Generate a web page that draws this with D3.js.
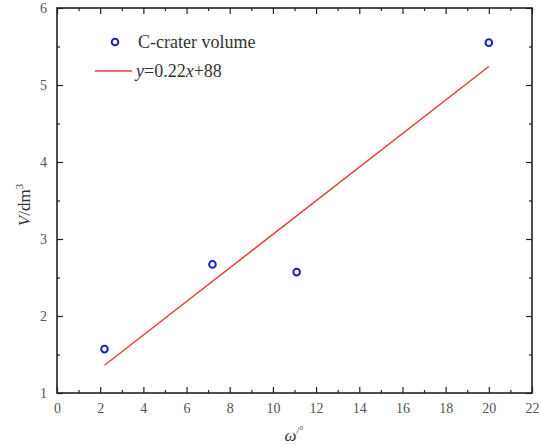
<!DOCTYPE html>
<html><head><meta charset="utf-8">
<script src="https://cdn.jsdelivr.net/npm/d3@7"></script>
<style>body{margin:0;background:#fff}</style>
</head><body>
<script>
const omega = [2.2, 7.2, 11.1, 20.0];
const volume = [1.57, 2.67, 2.57, 5.55];
const fitX = [2.2, 20.0];
const fitY = [1.36, 5.24];
const xTicks = [0,2,4,6,8,10,12,14,16,18,20,22];
const yTicks = [1,2,3,4,5,6];
const legendLabels = ["C-crater volume", "y=0.22x+88"];

const FONT = "Liberation Serif";
const W = 541, H = 446;
const m = {left:57, right:9, top:8, bottom:53};
const svg = d3.select("body").append("svg").attr("width", W).attr("height", H).style("font-family", FONT);
const x = d3.scaleLinear().domain([0,22]).range([m.left, W - m.right]);
const y = d3.scaleLinear().domain([1,6]).range([H - m.bottom, m.top]);
const axisColor = "#222";

const xMinor = d3.range(1, 22, 2);
const yMinor = d3.range(1.5, 6, 1);

function styleAxis(g){
  g.attr("font-family", null).attr("font-size", null);
  g.select(".domain").remove();
  g.selectAll("line").attr("stroke", axisColor).attr("stroke-width", 1.2);
  g.selectAll("text").attr("fill", "#555").style("font-family", FONT).style("font-size", "14px");
}
// bottom
svg.append("g").attr("transform", `translate(0,${y(1)})`)
  .call(d3.axisBottom(x).tickValues(xTicks).tickSize(-6).tickPadding(10).tickFormat(d3.format("d")))
  .call(styleAxis);
svg.append("g").attr("transform", `translate(0,${y(1)})`)
  .call(d3.axisBottom(x).tickValues(xMinor).tickSize(-3).tickFormat(""))
  .call(styleAxis);
// top
svg.append("g").attr("transform", `translate(0,${y(6)})`)
  .call(d3.axisTop(x).tickValues(xTicks).tickSize(-6).tickFormat(""))
  .call(styleAxis);
svg.append("g").attr("transform", `translate(0,${y(6)})`)
  .call(d3.axisTop(x).tickValues(xMinor).tickSize(-3).tickFormat(""))
  .call(styleAxis);
// left
svg.append("g").attr("transform", `translate(${x(0)},0)`)
  .call(d3.axisLeft(y).tickValues(yTicks).tickSize(-6).tickPadding(10).tickFormat(d3.format("d")))
  .call(styleAxis);
svg.append("g").attr("transform", `translate(${x(0)},0)`)
  .call(d3.axisLeft(y).tickValues(yMinor).tickSize(-3).tickFormat(""))
  .call(styleAxis);
// right
svg.append("g").attr("transform", `translate(${x(22)},0)`)
  .call(d3.axisRight(y).tickValues(yTicks).tickSize(-6).tickFormat(""))
  .call(styleAxis);
svg.append("g").attr("transform", `translate(${x(22)},0)`)
  .call(d3.axisRight(y).tickValues(yMinor).tickSize(-3).tickFormat(""))
  .call(styleAxis);

// frame
svg.append("rect").attr("x", x(0)).attr("y", y(6)).attr("width", x(22)-x(0)).attr("height", y(1)-y(6))
  .attr("fill", "none").attr("stroke", axisColor).attr("stroke-width", 1.6);

// fit line
svg.append("line").attr("x1", x(fitX[0])).attr("y1", y(fitY[0])).attr("x2", x(fitX[1])).attr("y2", y(fitY[1]))
  .attr("stroke", "#e8403c").attr("stroke-width", 1.5);

// points
svg.selectAll("circle.pt").data(omega).join("circle").attr("class","pt")
  .attr("cx", d => x(d)).attr("cy", (d,i) => y(volume[i])).attr("r", 3.3)
  .attr("fill", "none").attr("stroke", "#2020c0").attr("stroke-width", 2);

// legend
svg.append("circle").attr("cx", 115).attr("cy", 42).attr("r", 3.3)
  .attr("fill", "none").attr("stroke", "#2020c0").attr("stroke-width", 2);
svg.append("text").attr("x", 138).attr("y", 48).style("font-family", FONT).style("font-size", "18px").attr("fill", "#333").text(legendLabels[0]);
svg.append("line").attr("x1", 95).attr("x2", 132).attr("y1", 71).attr("y2", 71)
  .attr("stroke", "#e8403c").attr("stroke-width", 1.5);
const lt = svg.append("text").attr("x", 136).attr("y", 77).style("font-family", FONT).style("font-size", "18px").attr("fill", "#333");
lt.append("tspan").style("font-style","italic").text("y");
lt.append("tspan").text("=0.22");
lt.append("tspan").style("font-style","italic").text("x");
lt.append("tspan").text("+88");

// x label
const xl = svg.append("text").attr("x", 294).attr("y", 441).attr("text-anchor", "middle").style("font-family", FONT).style("font-size", "17px").attr("fill", "#333");
xl.append("tspan").style("font-style","italic").text("ω");
xl.append("tspan").attr("dy", -7).style("font-size", "10px").text("/°");

// y label
const yl = svg.append("text").attr("transform", `translate(30,${205}) rotate(-90)`).attr("text-anchor", "middle").style("font-family", FONT).style("font-size", "17px").attr("fill", "#333");
yl.append("tspan").style("font-style","italic").text("V");
yl.append("tspan").text("/dm");
yl.append("tspan").attr("dy", -7).style("font-size", "11px").text("3");
</script>
</body></html>
